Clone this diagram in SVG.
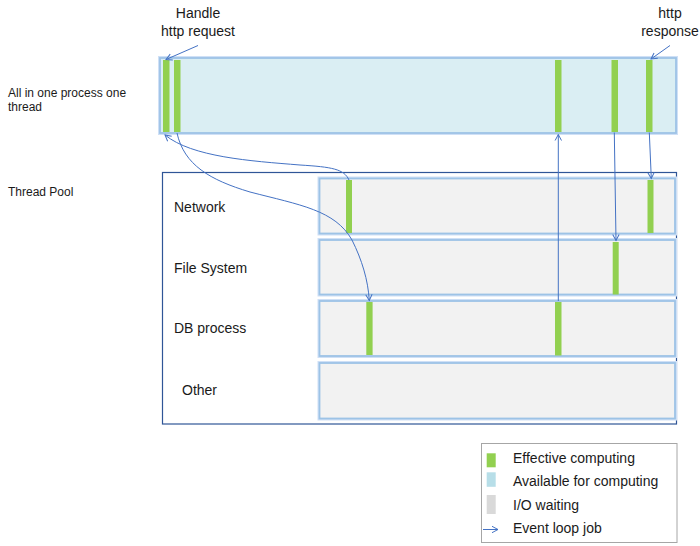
<svg xmlns="http://www.w3.org/2000/svg" width="700" height="546" viewBox="0 0 700 546">
<style>
  text { font-family: "Liberation Sans", Arial, sans-serif; fill: #1a1a1a; }
  .lbl { font-size: 14px; }
  .side { font-size: 12px; }
  .glow { fill: none; stroke: #CFE0F6; stroke-width: 4; }
  .top { fill: #DAEEF3; stroke: #9DC3E6; stroke-width: 1.8; }
  .row { fill: #F2F2F2; stroke: #9DC3E6; stroke-width: 1.8; }
  .green { fill: #92D050; }
  .conn { fill: none; stroke: #4472C4; stroke-width: 1; }
</style>
<defs>
  <marker id="arr" markerWidth="10" markerHeight="10" refX="7" refY="4" orient="auto" markerUnits="userSpaceOnUse">
    <path d="M1,0.8 L7,4 L1,7.2" fill="none" stroke="#4472C4" stroke-width="1"/>
  </marker>
</defs>
<rect width="700" height="546" fill="#ffffff"/>

<g id="labels-side">
  <text class="side" x="8" y="97">All in one process one</text>
  <text class="side" x="8" y="111">thread</text>
  <text class="side" x="8" y="196">Thread Pool</text>
</g>

<g id="label-request">
  <text class="lbl" x="198" y="18" text-anchor="middle">Handle</text>
  <text class="lbl" x="198" y="36" text-anchor="middle">http request</text>
</g>
<g id="label-response">
  <text class="lbl" x="670" y="18" text-anchor="middle">http</text>
  <text class="lbl" x="670" y="36" text-anchor="middle">response</text>
</g>

<g id="main-thread">
  <rect class="glow" x="160" y="58" width="516" height="75"/>
  <rect class="top" x="160" y="58" width="516" height="75"/>
  <rect class="green" x="163" y="60" width="6.5" height="72"/>
  <rect class="green" x="174" y="60" width="6.5" height="72"/>
  <rect class="green" x="555" y="60" width="6.5" height="72"/>
  <rect class="green" x="611.5" y="60" width="6.5" height="72"/>
  <rect class="green" x="646" y="60" width="6.5" height="72"/>
</g>

<g id="thread-pool">
  <rect x="162.5" y="172.5" width="514" height="251.5" fill="none" stroke="#2F5597" stroke-width="1.2"/>
</g>

<g id="row-network">
  <rect class="glow" x="319.5" y="178.5" width="355.5" height="55"/>
  <rect class="row" x="319.5" y="178.5" width="355.5" height="55"/>
  <rect class="green" x="346" y="180" width="6" height="53"/>
  <rect class="green" x="647.5" y="180" width="6" height="53"/>
  <text class="lbl" x="174" y="212">Network</text>
</g>
<g id="row-filesystem">
  <rect class="glow" x="319.5" y="240" width="355.5" height="54.5"/>
  <rect class="row" x="319.5" y="240" width="355.5" height="54.5"/>
  <rect class="green" x="612.7" y="242" width="6" height="52.5"/>
  <text class="lbl" x="174" y="273">File System</text>
</g>
<g id="row-db">
  <rect class="glow" x="319.5" y="301" width="355.5" height="55"/>
  <rect class="row" x="319.5" y="301" width="355.5" height="55"/>
  <rect class="green" x="366.3" y="302" width="6.3" height="53"/>
  <rect class="green" x="555" y="302" width="6.5" height="53.5"/>
  <text class="lbl" x="174" y="333">DB process</text>
</g>
<g id="row-other">
  <rect class="glow" x="319.5" y="363" width="355.5" height="55.5"/>
  <rect class="row" x="319.5" y="363" width="355.5" height="55.5"/>
  <text class="lbl" x="182" y="395">Other</text>
</g>

<g id="connectors">
  <path class="conn" d="M198,45.5 L166,59.5" marker-end="url(#arr)"/>
  <path class="conn" d="M670,45.5 L651,59" marker-end="url(#arr)"/>
  <path class="conn" d="M349,180 C344,169 332,167 300,165 C250,161 192,157 165,135" marker-end="url(#arr)"/>
  <path class="conn" d="M177,133 C184,165 210,180 250,192 C300,205 335,210 352,240 C362,260 368,280 369.3,300.5" marker-end="url(#arr)"/>
  <path class="conn" d="M558.3,301 L558.3,134.5" marker-end="url(#arr)"/>
  <path class="conn" d="M614.3,132.5 L616,240.5" marker-end="url(#arr)"/>
  <path class="conn" d="M649.3,132.5 L651.3,178.5" marker-end="url(#arr)"/>
</g>

<g id="legend">
  <rect x="481.5" y="443.5" width="195.5" height="99" fill="#ffffff" stroke="#A6A6A6" stroke-width="1"/>
  <rect x="486.7" y="453.3" width="9" height="14" fill="#92D050"/>
  <rect x="486.7" y="472.3" width="9" height="14.5" fill="#B7DEE8"/>
  <rect x="486.7" y="495" width="9" height="19" fill="#D9D9D9"/>
  <path class="conn" d="M483,529.5 L498,529.5" marker-end="url(#arr)"/>
  <text class="lbl" x="513" y="463">Effective computing</text>
  <text class="lbl" x="513" y="486">Available for computing</text>
  <text class="lbl" x="513" y="510">I/O waiting</text>
  <text class="lbl" x="513" y="533">Event loop job</text>
</g>
</svg>
